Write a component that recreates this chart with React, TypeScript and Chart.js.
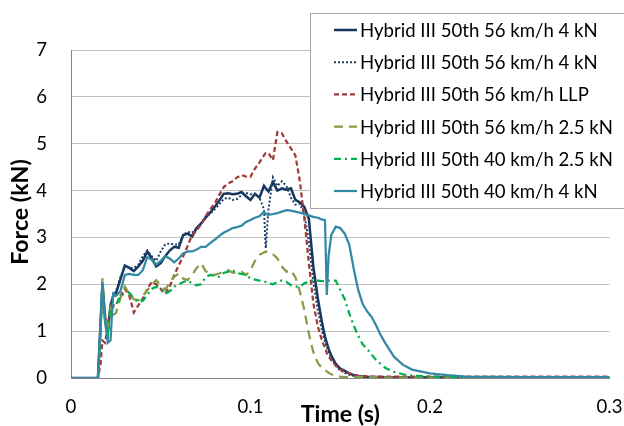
import React, { useEffect, useRef } from 'react';
import { Chart, registerables } from 'chart.js';
Chart.register(...registerables);

// Time (s)
const time = [
  0, 0.015, 0.0165, 0.0175, 0.019, 0.0205, 0.022, 0.0235, 0.025, 0.0275,
  0.03, 0.0325, 0.035, 0.0375, 0.04, 0.0425, 0.045, 0.0475, 0.05, 0.0525,
  0.055, 0.0575, 0.06, 0.0625, 0.065, 0.0675, 0.07, 0.0725, 0.075, 0.0775,
  0.08, 0.0825, 0.085, 0.0875, 0.09, 0.0925, 0.095, 0.0975, 0.1, 0.1025,
  0.105, 0.1075, 0.1085, 0.11, 0.1125, 0.115, 0.1175, 0.12, 0.1225, 0.125,
  0.1275, 0.13, 0.1325, 0.135, 0.1375, 0.14, 0.1415, 0.1425, 0.1435, 0.145,
  0.1475, 0.15, 0.1525, 0.155, 0.1575, 0.16, 0.1625, 0.165, 0.1675, 0.17,
  0.1725, 0.175, 0.18, 0.185, 0.19, 0.2, 0.21, 0.22, 0.25, 0.3,
];

// Force (kN)
const h56_4kN_a = [
  0, 0, 1.2, 2.0, 1.3, 1.0, 1.55, 1.75, 1.8, 2.1,
  2.4, 2.35, 2.28, 2.38, 2.5, 2.7, 2.55, 2.38, 2.45, 2.6,
  2.72, 2.8, 2.78, 3.05, 3.08, 3.02, 3.2, 3.3, 3.42, 3.53,
  3.65, 3.78, 3.93, 3.94, 3.92, 3.93, 3.97, 3.88, 3.8, 3.93,
  3.85, 4.1, 4.05, 3.98, 4.18, 4.0, 4.05, 4.02, 4.05, 3.8,
  3.75, 3.65, 3.4, 2.38, 1.7, 1.15, 0.88, 0.75, 0.62, 0.48,
  0.3, 0.2, 0.15, 0.1, 0.06, 0.04, 0.03, 0.02, 0.02, 0.02,
  0.02, 0.01, 0.01, 0.01, 0.01, 0.01, 0.01, 0.01, 0.01, 0.01,
];
const h56_4kN_b = [
  0, 0, 1.1, 2.0, 1.2, 0.9, 1.55, 1.75, 1.85, 2.15,
  2.4, 2.35, 2.35, 2.42, 2.6, 2.72, 2.6, 2.5, 2.7, 2.85,
  2.87, 2.85, 2.85, 3.05, 3.12, 3.1, 3.2, 3.3, 3.45, 3.5,
  3.6, 3.7, 3.82, 3.85, 3.8, 3.82, 3.9, 3.95, 3.92, 3.92,
  3.85, 3.6, 2.77, 3.6, 4.28, 4.1, 4.2, 4.1, 3.85, 3.7,
  3.72, 3.5, 2.9, 2.05, 1.45, 0.98, 0.78, 0.66, 0.56, 0.42,
  0.26, 0.16, 0.11, 0.07, 0.05, 0.03, 0.02, 0.02, 0.02, 0.02,
  0.01, 0.01, 0.01, 0.01, 0.01, 0.01, 0.01, 0.01, 0.01, 0.01,
];
const h56_llp = [
  0, 0, 0.3, 0.8, 0.75, 1.1, 1.5, 1.55, 1.55, 1.75,
  1.9, 1.75, 1.4, 1.55, 1.7, 1.9, 2.05, 2.0, 1.9, 1.8,
  1.95, 2.2, 2.4, 2.6, 2.82, 3.05, 3.15, 3.28, 3.45, 3.6,
  3.72, 3.9, 4.07, 4.15, 4.2, 4.28, 4.33, 4.3, 4.3, 4.47,
  4.6, 4.75, 4.8, 4.8, 4.65, 5.25, 5.22, 5.05, 4.9, 4.75,
  4.2, 3.4, 2.45, 1.6, 1.1, 0.78, 0.65, 0.53, 0.46, 0.38,
  0.27, 0.18, 0.13, 0.1, 0.07, 0.05, 0.04, 0.04, 0.03, 0.03,
  0.03, 0.03, 0.03, 0.03, 0.03, 0.03, 0.03, 0.03, 0.03, 0.03,
];
const h56_2_5kN = [
  0, 0, 1.0, 2.13, 1.3, 1.0, 1.5, 1.35, 1.38, 1.7,
  1.95, 1.8, 1.68, 1.66, 1.75, 1.87, 2.0, 2.09, 1.97, 1.88,
  2.05, 2.16, 2.23, 2.12, 2.09, 2.2, 2.35, 2.45, 2.28, 2.22,
  2.2, 2.23, 2.27, 2.3, 2.25, 2.24, 2.27, 2.2, 2.3, 2.5,
  2.63, 2.68, 2.7, 2.68, 2.64, 2.55, 2.38, 2.27, 2.3, 2.15,
  1.85, 1.45, 0.95, 0.55, 0.32, 0.2, 0.17, 0.14, 0.11, 0.08,
  0.05, 0.03, 0.02, 0.02, 0.02, 0.02, 0.02, 0.02, 0.02, 0.02,
  0.01, 0.01, 0.01, 0.01, 0.01, 0.01, 0.01, 0.01, 0.01, 0.01,
];
const h40_2_5kN = [
  0, 0, 1.0, 2.0, 1.2, 0.95, 1.5, 1.5, 1.55, 1.75,
  1.8, 1.82, 1.7, 1.62, 1.65, 1.77, 1.9, 1.95, 1.88, 1.8,
  1.85, 1.95, 2.0, 2.05, 2.08, 2.02, 1.98, 2.0, 2.15, 2.2,
  2.18, 2.16, 2.24, 2.27, 2.3, 2.24, 2.22, 2.2, 2.12, 2.1,
  2.08, 2.06, 2.05, 2.02, 2.0, 2.05, 2.08, 2.05, 1.98, 1.95,
  1.95, 2.02, 2.06, 2.09, 2.08, 2.07, 2.07, 2.07, 2.08, 2.08,
  2.08, 1.88, 1.68, 1.38, 1.12, 0.9, 0.72, 0.62, 0.5, 0.38,
  0.3, 0.22, 0.13, 0.08, 0.05, 0.03, 0.02, 0.02, 0.01, 0.01,
];
const h40_4kN = [
  0, 0, 1.2, 2.05, 1.2, 0.75, 0.8, 1.8, 1.75, 1.85,
  2.2, 2.22, 2.2, 2.2, 2.3, 2.58, 2.52, 2.42, 2.5, 2.6,
  2.55, 2.47, 2.55, 2.66, 2.7, 2.7, 2.74, 2.8, 2.8, 2.88,
  2.95, 3.03, 3.1, 3.15, 3.2, 3.22, 3.25, 3.33, 3.37, 3.42,
  3.45, 3.55, 3.5, 3.48, 3.5, 3.52, 3.55, 3.58, 3.57, 3.55,
  3.53, 3.5, 3.47, 3.44, 3.42, 3.38, 3.37, 1.77, 2.6, 3.05,
  3.23, 3.2, 3.08, 2.85, 2.33, 1.88, 1.58, 1.42, 1.3, 1.12,
  0.92, 0.75, 0.45, 0.28, 0.18, 0.1, 0.06, 0.03, 0.02, 0.02,
];

const seriesLabels = [
  'Hybrid III 50th 56 km/h 4 kN',
  'Hybrid III 50th 56 km/h 4 kN',
  'Hybrid III 50th 56 km/h LLP',
  'Hybrid III 50th 56 km/h 2.5 kN',
  'Hybrid III 50th 40 km/h 2.5 kN',
  'Hybrid III 50th 40 km/h 4 kN',
];
const seriesValues = [h56_4kN_a, h56_4kN_b, h56_llp, h56_2_5kN, h40_2_5kN, h40_4kN];
const seriesColors = ['#17365D', '#1F3F6B', '#A03A38', '#869B45', '#00B050', '#3389A3'];
const seriesDash = [[], [2, 2], [5, 3], [9, 6], [7, 4, 2, 4], []];
const seriesWidth = [2.5, 2, 2.25, 2.25, 2.25, 2.25];

const xTicks = [0, 0.1, 0.2, 0.3];
const yTicks = [0, 1, 2, 3, 4, 5, 6, 7];
const xTitle = 'Time (s)';
const yTitle = 'Force (kN)';

export default function App() {
  const ref = useRef<HTMLCanvasElement>(null);
  useEffect(() => {
    const canvas = ref.current!;
    const family = 'Lato, "Noto Sans", sans-serif';
    const probe = document.createElement('canvas').getContext('2d')!;
    probe.font = `20px ${family}`;
    const fs = (20 * 238) / probe.measureText(seriesLabels[0]).width;
    probe.font = `bold 20px ${family}`;
    const bfs = (20 * 79) / probe.measureText(xTitle).width;

    const overlay = {
      id: 'overlay',
      afterDraw(chart: any) {
        const ctx = chart.ctx as CanvasRenderingContext2D;
        ctx.save();
        ctx.fillStyle = '#000';
        ctx.font = `bold ${bfs}px ${family}`;
        ctx.textAlign = 'center';
        ctx.textBaseline = 'middle';
        const a = chart.chartArea;
        ctx.fillText(xTitle, (a.left + a.right) / 2, 415);
        ctx.save();
        ctx.translate(21, (a.top + a.bottom) / 2 - 2);
        ctx.rotate(-Math.PI / 2);
        ctx.fillText(yTitle, 0, 0);
        ctx.restore();
        ctx.fillStyle = '#fff';
        ctx.fillRect(310.5, 13.5, 340, 195);
        ctx.strokeStyle = '#A6A6A6';
        ctx.lineWidth = 1;
        ctx.strokeRect(310.5, 13.5, 340, 195);
        seriesLabels.forEach((lab, i) => {
          const y = 30 + i * 32.2;
          ctx.beginPath();
          ctx.setLineDash(seriesDash[i]);
          ctx.strokeStyle = seriesColors[i];
          ctx.lineWidth = seriesWidth[i];
          ctx.moveTo(334, y);
          ctx.lineTo(357, y);
          ctx.stroke();
          ctx.setLineDash([]);
          ctx.fillStyle = '#000';
          ctx.font = `${fs}px ${family}`;
          ctx.textAlign = 'left';
          ctx.textBaseline = 'middle';
          ctx.fillText(lab, 360, y + 1);
        });
        ctx.restore();
      },
    };

    const chart = new Chart(canvas, {
      type: 'line',
      data: {
        datasets: seriesValues.map((vals, i) => ({
          label: seriesLabels[i],
          data: time.map((t, j) => ({ x: t, y: vals[j] })),
          borderColor: seriesColors[i],
          backgroundColor: seriesColors[i],
          borderWidth: seriesWidth[i],
          borderDash: seriesDash[i],
          pointRadius: 0,
          tension: 0,
          fill: false,
          order: seriesValues.length - i,
        })),
      },
      options: {
        responsive: false,
        animation: false,
        events: [],
        layout: { padding: { left: 0, top: 50, right: 14.5, bottom: 0 } },
        plugins: { legend: { display: false }, tooltip: { enabled: false } },
        scales: {
          x: {
            type: 'linear',
            min: 0,
            max: 0.3,
            afterBuildTicks: (s: any) => {
              s.ticks = xTicks.map((v) => ({ value: v }));
            },
            afterFit: (s: any) => {
              s.height = 48;
              s.paddingLeft = 0;
              s.paddingRight = 0;
            },
            ticks: {
              padding: 18,
              color: '#000',
              font: { family, size: fs },
              maxRotation: 0,
              autoSkip: false,
              callback: (v: any) => String(Math.round(Number(v) * 10) / 10),
            },
            grid: { display: true, drawOnChartArea: false, drawTicks: false },
            border: { display: true, color: '#868686', width: 1 },
          },
          y: {
            type: 'linear',
            min: 0,
            max: 7,
            afterBuildTicks: (s: any) => {
              s.ticks = yTicks.map((v) => ({ value: v }));
            },
            afterFit: (s: any) => {
              s.width = 71;
              s.paddingTop = 0;
              s.paddingBottom = 0;
            },
            ticks: {
              padding: 24,
              color: '#000',
              font: { family, size: fs },
              autoSkip: false,
              callback: (v: any) => String(v),
            },
            grid: { color: '#BFBFBF', lineWidth: 1, drawTicks: false },
            border: { display: true, color: '#868686', width: 1 },
          },
        },
      },
      plugins: [overlay],
    } as any);
    return () => chart.destroy();
  }, []);
  return (
    <div style={{ position: 'fixed', left: 0, top: 0, width: 624, height: 426, background: '#fff' }}>
      <canvas ref={ref} width={624} height={426} style={{ display: 'block' }} />
    </div>
  );
}
